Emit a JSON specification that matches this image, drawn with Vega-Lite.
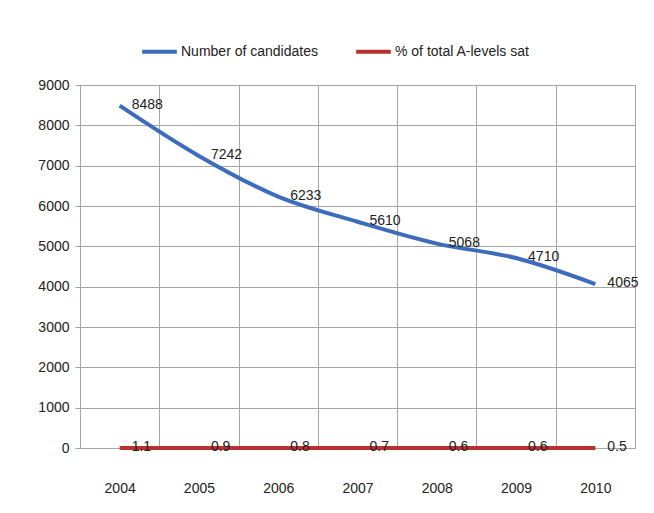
{
  "$schema": "https://vega.github.io/schema/vega-lite/v6.json",
  "width": 555,
  "height": 363,
  "autosize": {"type": "none"},
  "padding": {"left": 80, "top": 85, "right": 19, "bottom": 65},
  "background": "white",
  "config": {
    "font": "Liberation Sans",
    "view": {"stroke": "#a6a6a6", "strokeWidth": 1},
    "axis": {"labelFont": "Liberation Sans", "labelFontSize": 14, "labelColor": "#222", "gridColor": "#a6a6a6", "domain": false, "title": null}
  },
  "data": {
    "values": [
      {"year": "2004", "series": "Number of candidates", "value": 8488, "label": "8488"},
      {"year": "2005", "series": "Number of candidates", "value": 7242, "label": "7242"},
      {"year": "2006", "series": "Number of candidates", "value": 6233, "label": "6233"},
      {"year": "2007", "series": "Number of candidates", "value": 5610, "label": "5610"},
      {"year": "2008", "series": "Number of candidates", "value": 5068, "label": "5068"},
      {"year": "2009", "series": "Number of candidates", "value": 4710, "label": "4710"},
      {"year": "2010", "series": "Number of candidates", "value": 4065, "label": "4065"},
      {"year": "2004", "series": "% of total A-levels sat", "value": 1.1, "label": "1.1"},
      {"year": "2005", "series": "% of total A-levels sat", "value": 0.9, "label": "0.9"},
      {"year": "2006", "series": "% of total A-levels sat", "value": 0.8, "label": "0.8"},
      {"year": "2007", "series": "% of total A-levels sat", "value": 0.7, "label": "0.7"},
      {"year": "2008", "series": "% of total A-levels sat", "value": 0.6, "label": "0.6"},
      {"year": "2009", "series": "% of total A-levels sat", "value": 0.6, "label": "0.6"},
      {"year": "2010", "series": "% of total A-levels sat", "value": 0.5, "label": "0.5"}
    ]
  },
  "encoding": {
    "x": {
      "field": "year", "type": "ordinal",
      "scale": {"type": "band", "paddingInner": 0, "paddingOuter": 0},
      "axis": {"labelAngle": 0, "tickBand": "extent", "ticks": false, "labelPadding": 33, "grid": true}
    },
    "y": {
      "field": "value", "type": "quantitative",
      "scale": {"domain": [0, 9000]},
      "axis": {"values": [0,1000,2000,3000,4000,5000,6000,7000,8000,9000], "format": "d", "labelOverlap": false, "tickSize": 5, "tickColor": "#a6a6a6", "labelPadding": 6, "grid": true}
    }
  },
  "layer": [
    {
      "mark": {"type": "line", "strokeWidth": 4, "interpolate": "monotone"},
      "encoding": {
        "color": {
          "field": "series", "type": "nominal",
          "scale": {"domain": ["Number of candidates", "% of total A-levels sat"], "range": ["#3d6cbd", "#b8312f"]},
          "legend": {
            "orient": "none", "legendX": 60, "legendY": -53, "direction": "horizontal", "title": null,
            "symbolType": "stroke", "symbolStrokeWidth": 4, "symbolSize": 1200,
            "labelFont": "Liberation Sans", "labelFontSize": 14, "labelColor": "#222",
            "columnPadding": 30, "labelOffset": 2
          }
        }
      }
    },
    {
      "mark": {"type": "text", "align": "left", "baseline": "middle", "dx": 12, "dy": -1, "fontSize": 14, "font": "Liberation Sans", "color": "#222"},
      "encoding": {"text": {"field": "label"}}
    }
  ]
}
